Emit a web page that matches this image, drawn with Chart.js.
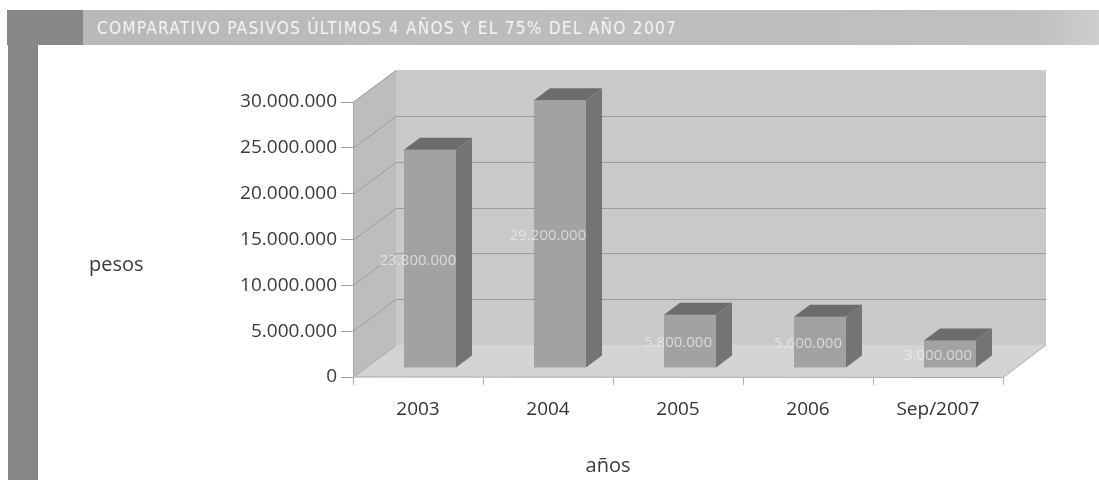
<!DOCTYPE html>
<html>
<head>
<meta charset="utf-8">
<title>Comparativo pasivos</title>
<script src="https://cdn.jsdelivr.net/npm/chart.js@4/dist/chart.umd.min.js"></script>
<style>
  html, body { margin: 0; padding: 0; background: #fff; }
  body { width: 1099px; height: 480px; position: relative; overflow: hidden; }
  #cv { position: absolute; left: 0; top: 0; }
  .band { position: absolute; left: 83px; top: 10px; width: 1016px; height: 35px;
          background: linear-gradient(to right, #b9b9b9, #c0c0c0 94%, #cecece); z-index: 2; }
  .block { position: absolute; left: 7px; top: 10px; width: 76px; height: 35px; background: #888; z-index: 2; }
  .side { position: absolute; left: 8px; top: 45px; width: 30px; height: 435px; background: #868686; z-index: 2; }
  .title { position: absolute; left: 97px; top: 10px; height: 35px; line-height: 36px; z-index: 3;
           color: #f4f4f4; font-family: "DejaVu Sans Condensed", "DejaVu Sans";
           font-size: 17px; white-space: nowrap; }
</style>
</head>
<body>
<div class="block"></div>
<div class="band"></div>
<div class="side"></div>
<div class="title" id="title">COMPARATIVO PASIVOS ÚLTIMOS 4 AÑOS Y EL 75% DEL AÑO 2007</div>
<canvas id="cv" width="1099" height="480"></canvas>
<script>
// pasivos por año (pesos); 2007 hasta septiembre
const categories = ['2003', '2004', '2005', '2006', 'Sep/2007'];
const pasivos = [23800000, 29200000, 5800000, 5600000, 3000000];
const yMin = 0;
const yMax = 30000000;
const yStep = 5000000;

// oblique depth: back wall offset, bar plane offset, bar thickness
const DEPTH = { x: 43, y: -32 };
const BAR_SHIFT = { x: 12, y: -9 };
const BAR_DEPTH = { x: 16, y: -12 };

const FONT = '"Open Sans", "DejaVu Sans", sans-serif';
const fmt = n => String(Math.round(n)).replace(/\B(?=(\d{3})+(?!\d))/g, '.');

// spread the header title over its band
const titleEl = document.getElementById('title');
const titleLen = titleEl.textContent.length;
titleEl.style.letterSpacing = ((580 - titleEl.getBoundingClientRect().width) / titleLen) + 'px';

function poly(ctx, pts, fill) {
  ctx.beginPath();
  ctx.moveTo(pts[0][0], pts[0][1]);
  for (let i = 1; i < pts.length; i++) ctx.lineTo(pts[i][0], pts[i][1]);
  ctx.closePath();
  ctx.fillStyle = fill;
  ctx.fill();
}

const walls3d = {
  id: 'walls3d',
  beforeDraw(chart) {
    const { ctx, chartArea: a, scales } = chart;
    const dx = DEPTH.x, dy = DEPTH.y;
    ctx.save();
    // side wall, back wall, floor
    poly(ctx, [[a.left, a.top], [a.left + dx, a.top + dy], [a.left + dx, a.bottom + dy], [a.left, a.bottom]], '#bdbdbd');
    poly(ctx, [[a.left + dx, a.top + dy], [a.right + dx, a.top + dy], [a.right + dx, a.bottom + dy], [a.left + dx, a.bottom + dy]], '#c9c9c9');
    poly(ctx, [[a.left, a.bottom], [a.right, a.bottom], [a.right + dx, a.bottom + dy], [a.left + dx, a.bottom + dy]], '#d4d4d4');
    // grid on back wall and diagonals on the side wall
    ctx.strokeStyle = '#9c9c9c';
    ctx.lineWidth = 1;
    for (let v = yMin; v <= yMax; v += yStep) {
      const y = Math.round(scales.y.getPixelForValue(v)) + 0.5;
      ctx.beginPath();
      ctx.moveTo(a.left, y);
      ctx.lineTo(a.left + dx, y + dy);
      if (v > yMin && v < yMax) ctx.lineTo(a.right + dx, y + dy);
      ctx.stroke();
    }
    ctx.strokeStyle = '#a8a8a8';
    ctx.beginPath();
    ctx.moveTo(a.left + 0.5, a.top);
    ctx.lineTo(a.left + 0.5, a.bottom);
    ctx.lineTo(a.right, a.bottom + 0.5);
    ctx.lineTo(a.right + dx, a.bottom + dy);
    ctx.stroke();
    // axis titles
    ctx.fillStyle = '#3a3a3a';
    ctx.font = '20px ' + FONT;
    ctx.textAlign = 'left';
    ctx.textBaseline = 'middle';
    ctx.fillText('pesos', 89, 265);
    ctx.textAlign = 'center';
    ctx.fillText('años', 608, 466);
    ctx.restore();
  },
  beforeDatasetsDraw(chart) {
    chart.ctx.save();
    chart.ctx.translate(BAR_SHIFT.x, BAR_SHIFT.y);
  },
  afterDatasetsDraw(chart) {
    const ctx = chart.ctx;
    const bars = chart.getDatasetMeta(0).data;
    const bx = BAR_DEPTH.x, by = BAR_DEPTH.y;
    bars.forEach(el => {
      const p = el.getProps(['x', 'y', 'base', 'width'], true);
      const l = p.x - p.width / 2, r = p.x + p.width / 2;
      poly(ctx, [[l, p.y], [r, p.y], [r + bx, p.y + by], [l + bx, p.y + by]], '#6c6c6c');
      poly(ctx, [[r, p.y], [r + bx, p.y + by], [r + bx, p.base + by], [r, p.base]], '#747474');
    });
    // value labels in the middle of each bar
    ctx.font = '15px ' + FONT;
    ctx.fillStyle = 'rgba(240,240,240,0.7)';
    ctx.textAlign = 'center';
    ctx.textBaseline = 'middle';
    bars.forEach((el, i) => {
      const p = el.getProps(['x', 'y', 'base'], true);
      ctx.fillText(fmt(pasivos[i]), p.x - 12, (p.y + p.base) / 2 + 2);
    });
    ctx.restore();
  }
};

new Chart(document.getElementById('cv'), {
  type: 'bar',
  data: {
    labels: categories,
    datasets: [{
      data: pasivos,
      backgroundColor: '#a2a2a2',
      borderWidth: 0,
      barPercentage: 0.4,
      categoryPercentage: 1
    }]
  },
  options: {
    responsive: false,
    animation: false,
    layout: { padding: { left: 0, right: 96, top: 102, bottom: 0 } },
    plugins: { legend: { display: false }, tooltip: { enabled: false } },
    scales: {
      x: {
        offset: true,
        afterFit(scale) { scale.height = 103; },
        border: { display: false },
        grid: { offset: true, drawOnChartArea: false, drawTicks: true, tickLength: 8, color: '#b0b0b0' },
        ticks: { color: '#333', padding: 13, maxRotation: 0, font: { family: FONT, size: 19 } }
      },
      y: {
        min: yMin,
        max: yMax,
        afterFit(scale) { scale.width = 353; },
        border: { display: false },
        grid: { drawOnChartArea: false, drawTicks: true, tickLength: 12, color: '#a0a0a0' },
        ticks: { stepSize: yStep, color: '#3a3a3a', padding: 4, font: { family: FONT, size: 19 },
                 callback: v => fmt(v) }
      }
    }
  },
  plugins: [walls3d]
});
</script>
</body>
</html>
